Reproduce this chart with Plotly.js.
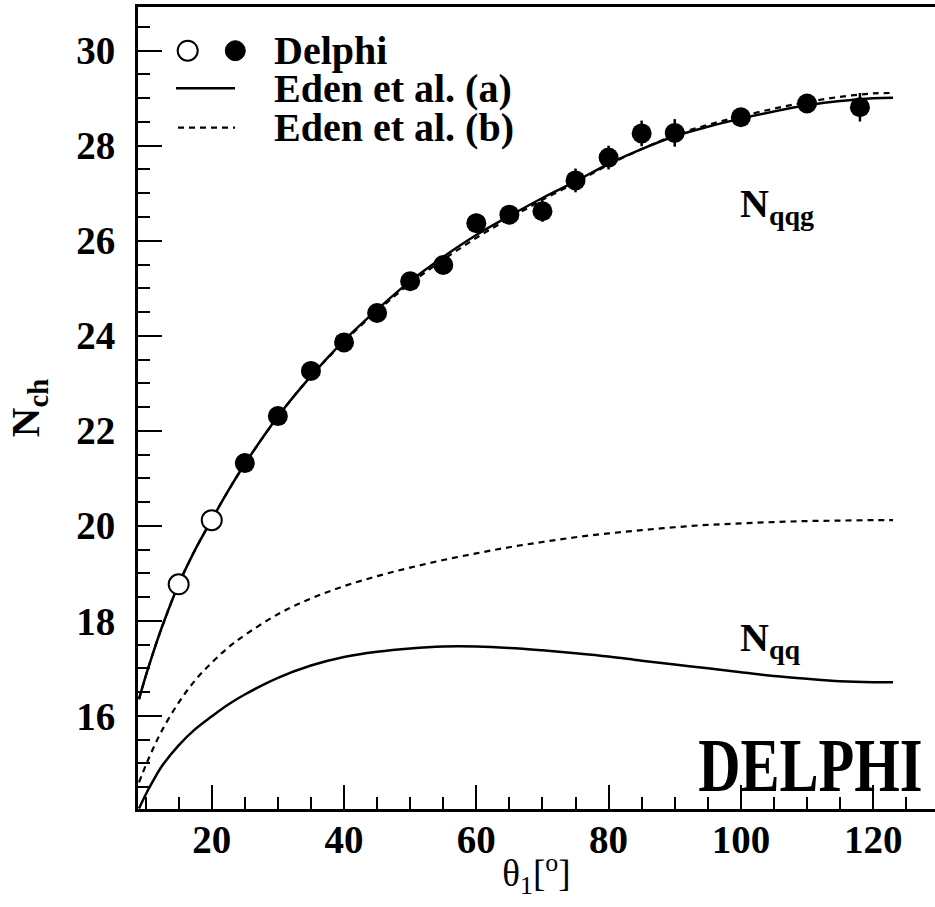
<!DOCTYPE html>
<html>
<head>
<meta charset="utf-8">
<script src="https://cdn.plot.ly/plotly-3.0.1.min.js"></script>
<style>
html,body{margin:0;padding:0;background:#fff;overflow:hidden;}
#chart{width:935px;height:907px;}
</style>
</head>
<body>
<div id="chart"></div>
<script>
// ---- data ----
const dataTheta = [15, 20, 25, 30, 35, 40, 45, 50, 55, 60, 65, 70, 75, 80, 85, 90, 100, 110, 118];
const dataNch   = [18.77, 20.12, 21.32, 22.31, 23.26, 23.86, 24.48, 25.15, 25.49, 26.37, 26.55, 26.62, 27.27, 27.75, 28.26, 28.27, 28.60, 28.89, 28.81];
const dataErr   = [0.10, 0.10, 0.10, 0.10, 0.10, 0.10, 0.12, 0.12, 0.15, 0.20, 0.20, 0.22, 0.25, 0.25, 0.27, 0.29, 0.18, 0.15, 0.30];
const openCount = 2; // first two points drawn as open circles

const curveTheta = [9, 10, 11, 12.5, 15, 17.5, 20, 22.5, 25, 30, 35, 40, 45, 50, 55, 60, 65, 70, 75, 80, 85, 90, 95, 100, 105, 110, 115, 120, 123];
const qqgA = [16.35, 16.83, 17.27, 17.88, 18.77, 19.50, 20.13, 20.74, 21.30, 22.30, 23.15, 23.90, 24.55, 25.15, 25.66, 26.12, 26.52, 26.90, 27.25, 27.62, 27.93, 28.20, 28.40, 28.57, 28.72, 28.85, 28.94, 29.00, 29.01];
const qqgB = [16.35, 16.83, 17.27, 17.88, 18.77, 19.50, 20.13, 20.74, 21.30, 22.30, 23.15, 23.88, 24.52, 25.10, 25.60, 26.06, 26.47, 26.86, 27.22, 27.60, 27.93, 28.22, 28.44, 28.62, 28.78, 28.92, 29.03, 29.10, 29.11];
const qqA  = [14.05, 14.34, 14.60, 14.95, 15.38, 15.72, 15.99, 16.24, 16.45, 16.80, 17.06, 17.24, 17.35, 17.42, 17.46, 17.46, 17.43, 17.38, 17.32, 17.25, 17.16, 17.08, 17.00, 16.92, 16.84, 16.78, 16.73, 16.71, 16.71];
const qqB  = [14.60, 14.95, 15.27, 15.70, 16.28, 16.75, 17.12, 17.44, 17.70, 18.14, 18.47, 18.73, 18.94, 19.12, 19.28, 19.42, 19.55, 19.66, 19.76, 19.84, 19.91, 19.97, 20.02, 20.05, 20.08, 20.10, 20.11, 20.12, 20.12];

const legendLabels = ['Delphi', 'Eden et al. (a)', 'Eden et al. (b)'];
const xTitle = 'θ<sub>1</sub>[<sup>o</sup>]';
const yTitle = '<b>N<sub>ch</sub></b>';

// ---- layout helpers ----
const W = 935, H = 907, L = 138, R = 0, T = 7, B = 98;
const pw = W - L - R, ph = H - T - B;
const px = x => (x - L) / pw;
const py = y => (H - B - y) / ph;
const FONT = 'Liberation Serif, Times New Roman, serif';

const traces = [
  {x: curveTheta, y: qqgA, mode: 'lines', line: {color: 'black', width: 2.5, shape: 'spline'}, hoverinfo: 'skip'},
  {x: curveTheta, y: qqgB, mode: 'lines', line: {color: 'black', width: 2.2, dash: '6px,5px', shape: 'spline'}, hoverinfo: 'skip'},
  {x: curveTheta, y: qqA, mode: 'lines', line: {color: 'black', width: 2.5, shape: 'spline'}, hoverinfo: 'skip'},
  {x: curveTheta, y: qqB, mode: 'lines', line: {color: 'black', width: 2.2, dash: '6px,5px', shape: 'spline'}, hoverinfo: 'skip'},
  {x: dataTheta.slice(0, openCount), y: dataNch.slice(0, openCount), mode: 'markers',
   error_y: {type: 'data', array: dataErr.slice(0, openCount), color: 'black', thickness: 2.5, width: 0},
   marker: {symbol: 'circle', size: 20, color: 'white', line: {color: 'black', width: 2}}},
  {x: dataTheta.slice(openCount), y: dataNch.slice(openCount), mode: 'markers',
   error_y: {type: 'data', array: dataErr.slice(openCount), color: 'black', thickness: 2.5, width: 0},
   marker: {symbol: 'circle', size: 20, color: 'black'}}
];

const shapes = [
  {type: 'circle', xref: 'paper', yref: 'paper', xsizemode: 'pixel', ysizemode: 'pixel',
   xanchor: px(187.7), yanchor: py(50.7), x0: -10, x1: 10, y0: -10, y1: 10,
   line: {color: 'black', width: 2}, fillcolor: 'white'},
  {type: 'circle', xref: 'paper', yref: 'paper', xsizemode: 'pixel', ysizemode: 'pixel',
   xanchor: px(235.3), yanchor: py(50.7), x0: -10, x1: 10, y0: -10, y1: 10,
   line: {color: 'black', width: 1}, fillcolor: 'black'},
  {type: 'line', xref: 'paper', yref: 'paper', x0: px(176), x1: px(235), y0: py(88.3), y1: py(88.3),
   line: {color: 'black', width: 2.5}},
  {type: 'line', xref: 'paper', yref: 'paper', x0: px(178), x1: px(235), y0: py(127.7), y1: py(127.7),
   line: {color: 'black', width: 2.2, dash: '6px,5px'}}
];

const annFont = {family: FONT, size: 40, color: 'black'};
const annotations = [
  {text: '<b>' + legendLabels[0] + '</b>', xref: 'paper', yref: 'paper', x: px(272), y: py(50.7), xanchor: 'left', yanchor: 'middle', showarrow: false, font: annFont},
  {text: '<b>' + legendLabels[1] + '</b>', xref: 'paper', yref: 'paper', x: px(272), y: py(88.3), xanchor: 'left', yanchor: 'middle', showarrow: false, font: annFont},
  {text: '<b>' + legendLabels[2] + '</b>', xref: 'paper', yref: 'paper', x: px(272), y: py(127.7), xanchor: 'left', yanchor: 'middle', showarrow: false, font: annFont},
  {text: '<b>N<sub>qqg</sub></b>', xref: 'paper', yref: 'paper', x: px(738), y: py(206), xanchor: 'left', yanchor: 'middle', showarrow: false, font: annFont},
  {text: '<b>N<sub>qq</sub></b>', xref: 'paper', yref: 'paper', x: px(738), y: py(640), xanchor: 'left', yanchor: 'middle', showarrow: false, font: annFont},
  {text: '<b>DELPHI</b>', xref: 'paper', yref: 'paper', x: px(924), y: 0, xanchor: 'right', yanchor: 'bottom', showarrow: false,
   font: {family: FONT, size: 76, color: 'black'}}
];

const layout = {
  width: W, height: H,
  margin: {l: L, r: R, t: T, b: B, pad: 0},
  paper_bgcolor: 'white', plot_bgcolor: 'white',
  showlegend: false,
  font: {family: FONT, color: 'black'},
  xaxis: {
    range: [8.85, 129.35], showgrid: false, zeroline: false,
    showline: true, linecolor: 'black', linewidth: 3, mirror: true,
    ticks: 'inside', ticklen: 24, tickwidth: 2, tickcolor: 'black',
    tick0: 0, dtick: 20,
    minor: {ticks: 'inside', ticklen: 12, tickwidth: 2, tickcolor: 'black', dtick: 5, tick0: 0, showgrid: false},
    tickfont: {family: FONT, size: 39, color: 'black', weight: 'bold'},
    ticklabelstandoff: -6,
    title: {text: xTitle, font: {family: FONT, size: 37, color: 'black'}, standoff: 1},
    automargin: false
  },
  yaxis: {
    range: [14.04, 30.92], showgrid: false, zeroline: false,
    showline: true, linecolor: 'black', linewidth: 3, mirror: false,
    ticks: 'inside', ticklen: 24, tickwidth: 2, tickcolor: 'black',
    tick0: 0, dtick: 2,
    minor: {ticks: 'inside', ticklen: 12, tickwidth: 2, tickcolor: 'black', dtick: 0.5, tick0: 0, showgrid: false},
    tickfont: {family: FONT, size: 39, color: 'black', weight: 'bold'},
    ticklabelstandoff: 12,
    title: {text: yTitle, font: {family: FONT, size: 41, color: 'black'}, standoff: 24},
    automargin: false
  },
  shapes: shapes,
  annotations: annotations
};

Plotly.newPlot('chart', traces, layout, {staticPlot: true, displayModeBar: false}).then(gd => {
  // horizontally condense the big DELPHI label around its right edge
  gd.querySelectorAll('g.annotation').forEach(g => {
    const t = g.querySelector('text');
    if (t && t.textContent === 'DELPHI') {
      const tg = g.querySelector('g.annotation-text-g');
      const bb = tg.getBBox();
      const rx = bb.x + bb.width;
      const prev = tg.getAttribute('transform') || '';
      tg.setAttribute('transform', prev + ' translate(' + rx + ',0) scale(0.77,1) translate(' + (-rx) + ',0)');
    }
  });
});
</script>
</body>
</html>
